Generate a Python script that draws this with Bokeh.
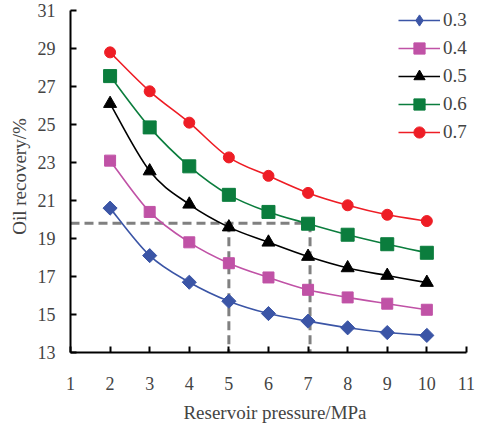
from bokeh.plotting import figure
from bokeh.models import Range1d, FixedTicker, Legend, LegendItem
from bokeh.embed import file_html
from bokeh.resources import INLINE
import math

pressure = [2, 3, 4, 5, 6, 7, 8, 9, 10]
series_names = ["0.3", "0.4", "0.5", "0.6", "0.7"]
rec_03 = [20.6, 18.1, 16.7, 15.7, 15.05, 14.65, 14.3, 14.05, 13.9]
rec_04 = [23.1, 20.4, 18.8, 17.7, 16.95, 16.3, 15.9, 15.57, 15.25]
rec_05 = [26.1, 22.55, 20.8, 19.6, 18.8, 18.05, 17.45, 17.05, 16.68]
rec_06 = [27.55, 24.85, 22.8, 21.3, 20.4, 19.78, 19.2, 18.7, 18.25]
rec_07 = [28.8, 26.75, 25.1, 23.27, 22.3, 21.4, 20.75, 20.25, 19.92]

x_ticks = [1, 2, 3, 4, 5, 6, 7, 8, 9, 10, 11]
y_ticks = [13, 15, 17, 19, 21, 23, 25, 27, 29, 31]

guide_level = 19.8
guide_x_start = 1
guide_x = [5, 7.05]
guide_y_base = 13

colors = ["#3B55A6", "#C052A6", "#000000", "#0B7D3D", "#EE1D25"]
markers = ["square", "square", "triangle", "square", "circle"]
legend_markers = ["diamond", "square", "triangle", "square", "circle"]
angles = [math.pi / 4, 0, 0, 0, 0]
sizes = [10, 11, 13, 13, 11]

FONT = "Liberation Serif"

p = figure(width=479, height=427, output_backend="svg", toolbar_location=None,
           x_range=Range1d(1, 11.33), y_range=Range1d(13, 31.53),
           min_border_left=70, min_border_right=0, min_border_top=0, min_border_bottom=75)
p.outline_line_color = None
p.grid.visible = False
p.background_fill_color = "white"

for ax in (p.xaxis[0], p.yaxis[0]):
    ax.axis_line_width = 2
    ax.axis_line_color = "black"
    ax.major_tick_in = 6
    ax.major_tick_out = 0
    ax.major_tick_line_width = 2
    ax.minor_tick_line_color = None
    ax.major_label_text_font = FONT
    ax.major_label_text_font_size = "18px"
    ax.axis_label_text_font = FONT
    ax.axis_label_text_font_size = "19px"
    ax.axis_label_text_font_style = "normal"

p.xaxis.bounds = (1, 11)
p.yaxis.bounds = (13, 31)
p.xaxis.ticker = FixedTicker(ticks=x_ticks)
p.yaxis.ticker = FixedTicker(ticks=y_ticks)
p.xaxis.axis_label = "Reservoir pressure/MPa"
p.yaxis.axis_label = "Oil recovery/%"
p.xaxis.major_label_standoff = 24
p.xaxis.axis_label_standoff = 9
p.yaxis.major_label_standoff = 15
p.yaxis.axis_label_standoff = 5

# dashed guide lines
p.multi_line(xs=[[guide_x_start, guide_x[1]], [guide_x[0], guide_x[0]], [guide_x[1], guide_x[1]]],
             ys=[[guide_level, guide_level], [guide_level, guide_y_base], [guide_level, guide_y_base]],
             line_color="#808080", line_width=3, line_dash="9 5")


def smooth_segments(xs, ys):
    n = len(xs)
    x0, y0, x1, y1, cx0, cy0, cx1, cy1 = [], [], [], [], [], [], [], []
    for i in range(n - 1):
        xp = xs[i - 1] if i > 0 else xs[i]
        yp = ys[i - 1] if i > 0 else ys[i]
        xn = xs[i + 2] if i + 2 < n else xs[i + 1]
        yn = ys[i + 2] if i + 2 < n else ys[i + 1]
        x0.append(xs[i]); y0.append(ys[i]); x1.append(xs[i + 1]); y1.append(ys[i + 1])
        cx0.append(xs[i] + (xs[i + 1] - xp) / 6.0)
        cy0.append(ys[i] + (ys[i + 1] - yp) / 6.0)
        cx1.append(xs[i + 1] - (xn - xs[i]) / 6.0)
        cy1.append(ys[i + 1] - (yn - ys[i]) / 6.0)
    return dict(x0=x0, y0=y0, x1=x1, y1=y1, cx0=cx0, cy0=cy0, cx1=cx1, cy1=cy1)


items = []
for name, vals, c, m, lm, a, s in zip(series_names, [rec_03, rec_04, rec_05, rec_06, rec_07],
                                      colors, markers, legend_markers, angles, sizes):
    seg = smooth_segments(pressure, vals)
    r1 = p.bezier(x0=seg["x0"], y0=seg["y0"], x1=seg["x1"], y1=seg["y1"],
                  cx0=seg["cx0"], cy0=seg["cy0"], cx1=seg["cx1"], cy1=seg["cy1"],
                  line_color=c, line_width=1.6)
    r2 = p.scatter(pressure, vals, marker=m, angle=a, size=s, fill_color=c, line_color=c)
    if lm != m:
        r3 = p.scatter(pressure, vals, marker=lm, size=s, fill_color=c, line_color=c)
        r3.visible = False
        items.append(LegendItem(label=name, renderers=[r1, r3]))
    else:
        items.append(LegendItem(label=name, renderers=[r1, r2]))

legend = Legend(items=items, location=(328, 206), orientation="vertical",
                label_text_font=FONT, label_text_font_size="19px",
                glyph_width=42, glyph_height=28, label_height=28, spacing=0,
                padding=0, margin=0, border_line_color=None, background_fill_alpha=0,
                label_standoff=3)
p.add_layout(legend, "center")

open("out.html", "w").write(file_html(p, INLINE))
